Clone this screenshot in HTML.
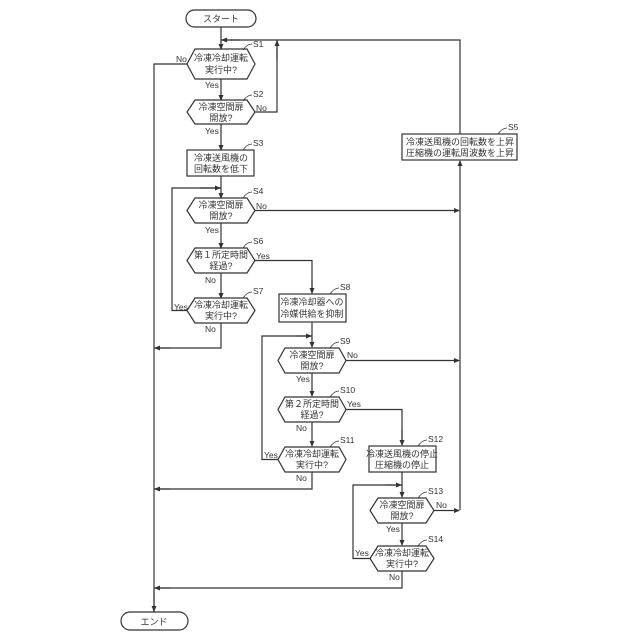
<!DOCTYPE html>
<html><head><meta charset="utf-8"><style>
html,body{margin:0;padding:0;background:#fff;}
svg{display:block;}
text{font-family:"Liberation Sans","Noto Sans CJK JP",sans-serif;fill:#333;}
.t{font-size:9px;text-anchor:middle;}
.l{font-size:8.5px;}
</style></head><body>
<svg width="640" height="640" viewBox="0 0 640 640">
<defs><marker id="a" markerWidth="6" markerHeight="6" refX="5" refY="3" orient="auto" markerUnits="userSpaceOnUse"><path d="M0,0.5 L6,3 L0,5.5z" fill="#333"/></marker></defs>
<g fill="none" stroke="#333" stroke-width="1.2">
<!-- start/end -->
<rect x="186" y="10" width="70" height="17" rx="8.5"/>
<rect x="121" y="612" width="67" height="18" rx="9"/>
<!-- hexagons -->
<polygon points="195,49 247,49 255,64 247,79 195,79 187,64"/>
<polygon points="195,100 247,100 255,112 247,124 195,124 187,112"/>
<rect x="187" y="150" width="67" height="26"/>
<polygon points="195,198 247,198 255,210.5 247,223 195,223 187,210.5"/>
<polygon points="195,248 247,248 255,260.5 247,273 195,273 187,260.5"/>
<polygon points="195,298 247,298 255,310.5 247,323 195,323 187,310.5"/>
<rect x="402" y="134" width="115" height="26"/>
<rect x="279" y="294" width="67" height="28"/>
<polygon points="285,348 339,348 346,360.5 339,373 285,373 278,360.5"/>
<polygon points="285,397 339,397 346,409.5 339,422 285,422 278,409.5"/>
<polygon points="285,447 339,447 346,459.5 339,472 285,472 278,459.5"/>
<rect x="369" y="446" width="67" height="26"/>
<polygon points="378,498 426,498 434,510.5 426,523 378,523 370,510.5"/>
<polygon points="378,546 426,546 434,558.5 426,571 378,571 370,558.5"/>
<!-- main column -->
<line x1="221" y1="27" x2="221" y2="49" marker-end="url(#a)"/>
<line x1="221" y1="79" x2="221" y2="100" marker-end="url(#a)"/>
<line x1="221" y1="124" x2="221" y2="150" marker-end="url(#a)"/>
<line x1="221" y1="176" x2="221" y2="198" marker-end="url(#a)"/>
<line x1="221" y1="223" x2="221" y2="248" marker-end="url(#a)"/>
<line x1="221" y1="273" x2="221" y2="298" marker-end="url(#a)"/>
<polyline points="221,323 221,348 154,348"/><line x1="170" y1="348" x2="155" y2="348" marker-end="url(#a)"/>
<!-- top loop -->
<polyline points="460,134 460,40 221,40"/><line x1="240" y1="40" x2="222" y2="40" marker-end="url(#a)"/>
<polyline points="255,112 277,112 277,40"/><line x1="277" y1="60" x2="277" y2="41" marker-end="url(#a)"/>
<!-- left line to end -->
<polyline points="187,64 154,64 154,612"/><line x1="154" y1="590" x2="154" y2="611" marker-end="url(#a)"/>
<!-- S4 loop -->
<polyline points="187,310.5 172,310.5 172,188 221,188"/><line x1="200" y1="188" x2="220" y2="188" marker-end="url(#a)"/>
<!-- right trunk -->
<line x1="460" y1="510" x2="460" y2="161" marker-end="url(#a)"/>
<line x1="255" y1="210.5" x2="459" y2="210.5" marker-end="url(#a)"/>
<line x1="346" y1="360.5" x2="459" y2="360.5" marker-end="url(#a)"/>
<line x1="434" y1="510.5" x2="459" y2="510.5" marker-end="url(#a)"/>
<!-- S6 yes -->
<polyline points="255,260.5 312,260.5 312,293"/><line x1="312" y1="280" x2="312" y2="293" marker-end="url(#a)"/>
<line x1="312" y1="322" x2="312" y2="347" marker-end="url(#a)"/>
<line x1="312" y1="373" x2="312" y2="396" marker-end="url(#a)"/>
<line x1="312" y1="422" x2="312" y2="446" marker-end="url(#a)"/>
<polyline points="278,459.5 262,459.5 262,336 312,336"/><line x1="295" y1="336" x2="311" y2="336" marker-end="url(#a)"/>
<polyline points="312,472 312,489 154,489"/><line x1="170" y1="489" x2="155" y2="489" marker-end="url(#a)"/>
<polyline points="346,409.5 402,409.5 402,445"/><line x1="402" y1="430" x2="402" y2="445" marker-end="url(#a)"/>
<line x1="402" y1="472" x2="402" y2="497" marker-end="url(#a)"/>
<line x1="402" y1="523" x2="402" y2="545" marker-end="url(#a)"/>
<polyline points="370,558.5 353,558.5 353,485 402,485"/><line x1="385" y1="485" x2="401" y2="485" marker-end="url(#a)"/>
<polyline points="402,571 402,588 154,588"/><line x1="170" y1="588" x2="155" y2="588" marker-end="url(#a)"/>
<!-- step leaders -->
<path d="M243,50 q4,-6 9,-6 M243,101 q4,-6 9,-6 M243,150 q4,-6 9,-6 M243,198 q4,-6 9,-6 M243,248 q4,-6 9,-6 M243,298 q4,-6 9,-6 M498,134 q4,-6 9,-6 M330,294 q4,-6 9,-6 M330,348 q4,-6 9,-6 M330,397 q4,-6 9,-6 M330,447 q4,-6 9,-6 M418,446 q4,-6 9,-6 M418,498 q4,-6 9,-6 M418,546 q4,-6 9,-6" stroke-width="0.8"/>
</g>
<text class="t" x="221" y="22">スタート</text>
<text class="t" x="154" y="625">エンド</text>
<text class="t" x="221" y="61">冷凍冷却運転</text><text class="t" x="221" y="73">実行中?</text>
<text class="t" x="221" y="110">冷凍空間扉</text><text class="t" x="221" y="121">開放?</text>
<text class="t" x="221" y="161">冷凍送風機の</text><text class="t" x="221" y="172">回転数を低下</text>
<text class="t" x="221" y="208">冷凍空間扉</text><text class="t" x="221" y="219">開放?</text>
<text class="t" x="221" y="258">第１所定時間</text><text class="t" x="221" y="269">経過?</text>
<text class="t" x="221" y="308">冷凍冷却運転</text><text class="t" x="221" y="319">実行中?</text>
<text class="t" x="460" y="145">冷凍送風機の回転数を上昇</text><text class="t" x="460" y="156">圧縮機の運転周波数を上昇</text>
<text class="t" x="312" y="305">冷凍冷却器への</text><text class="t" x="312" y="317">冷媒供給を抑制</text>
<text class="t" x="312" y="358">冷凍空間扉</text><text class="t" x="312" y="369">開放?</text>
<text class="t" x="312" y="407">第２所定時間</text><text class="t" x="312" y="418">経過?</text>
<text class="t" x="312" y="457">冷凍冷却運転</text><text class="t" x="312" y="468">実行中?</text>
<text class="t" x="402" y="457">冷凍送風機の停止</text><text class="t" x="402" y="468">圧縮機の停止</text>
<text class="t" x="402" y="508">冷凍空間扉</text><text class="t" x="402" y="519">開放?</text>
<text class="t" x="402" y="556">冷凍冷却運転</text><text class="t" x="402" y="567">実行中?</text>
<g class="l">
<text x="253" y="47">S1</text><text x="253" y="97">S2</text><text x="253" y="146">S3</text><text x="253" y="194">S4</text><text x="253" y="244">S6</text><text x="253" y="294">S7</text>
<text x="508" y="130">S5</text><text x="340" y="290">S8</text><text x="340" y="344">S9</text><text x="340" y="393">S10</text><text x="340" y="443">S11</text>
<text x="428" y="442">S12</text><text x="428" y="494">S13</text><text x="428" y="542">S14</text>
<text x="176" y="62">No</text><text x="205" y="88">Yes</text>
<text x="256" y="111">No</text><text x="205" y="134">Yes</text>
<text x="256" y="209">No</text><text x="205" y="233">Yes</text>
<text x="256" y="259">Yes</text><text x="205" y="283">No</text>
<text x="174" y="310">Yes</text><text x="205" y="332">No</text>
<text x="347" y="358">No</text><text x="296" y="382">Yes</text>
<text x="347" y="407">Yes</text><text x="296" y="431">No</text>
<text x="264" y="458">Yes</text><text x="296" y="481">No</text>
<text x="436" y="508">No</text><text x="386" y="532">Yes</text>
<text x="355" y="556">Yes</text><text x="389" y="580">No</text>
</g>
</svg>
</body></html>
